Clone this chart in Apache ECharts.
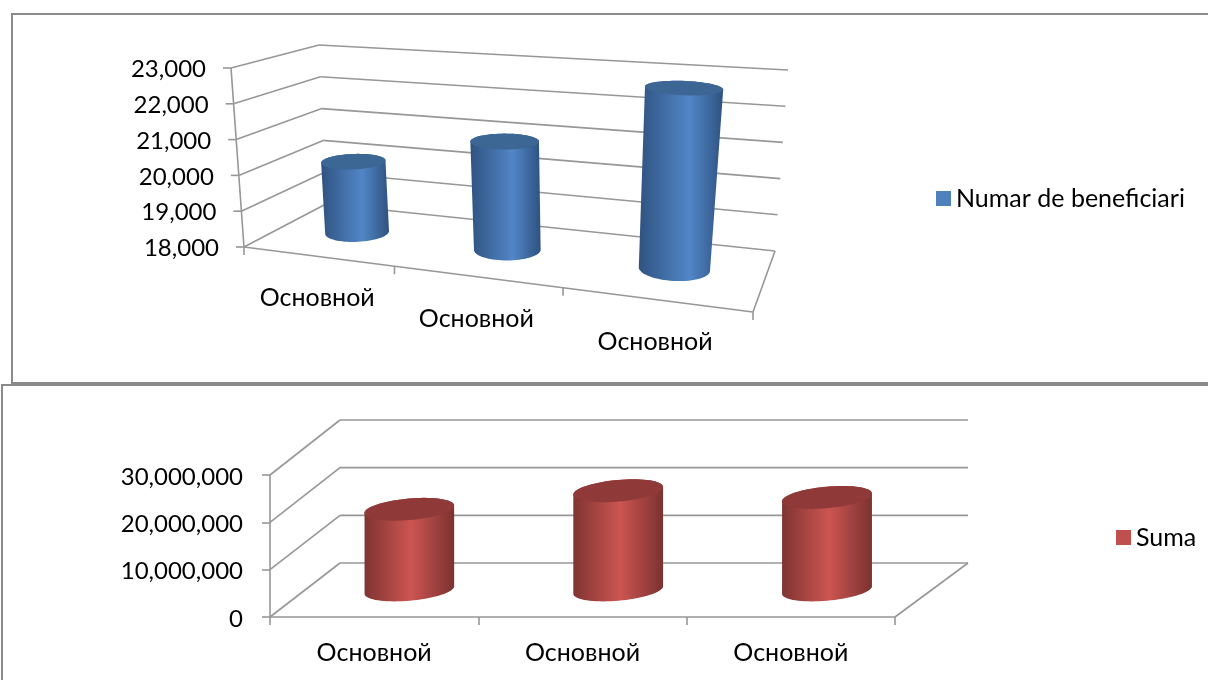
<!DOCTYPE html>
<html><head><meta charset="utf-8">
<style>html,body{margin:0;padding:0;background:#fff}#c{width:1208px;height:680px}</style>
<script src="https://cdn.jsdelivr.net/npm/echarts@6/dist/echarts.min.js"></script>
</head><body><div id="c"></div>
<script>
const categoriesTop = ['Основной','Основной','Основной'];
const categoriesBottom = ['Основной','Основной','Основной'];
const beneficiari = [20050, 21000, 22800];
const suma = [17000000, 20900000, 19500000];
const ticksTop = [18000,19000,20000,21000,22000,23000];
const ticksBottom = [0,10000000,20000000,30000000];
const FONT = 'Lato, "Open Sans", sans-serif';
const FS = 24, FS_TEXT = 25;
const GRAY = '#979797';

function homography(p){
  const [p0,p1,p2,p3]=p;
  const dx1=p1[0]-p2[0],dx2=p3[0]-p2[0],sx=p0[0]-p1[0]+p2[0]-p3[0];
  const dy1=p1[1]-p2[1],dy2=p3[1]-p2[1],sy=p0[1]-p1[1]+p2[1]-p3[1];
  const den=dx1*dy2-dx2*dy1;
  const g=(sx*dy2-dx2*sy)/den,h=(dx1*sy-sx*dy1)/den;
  const a=p1[0]-p0[0]+g*p1[0],b=p3[0]-p0[0]+h*p3[0],c=p0[0];
  const d=p1[1]-p0[1]+g*p1[1],e=p3[1]-p0[1]+h*p3[1],f=p0[1];
  return (u,w)=>{const q=g*u+h*w+1;return [(a*u+b*w+c)/q,(d*u+e*w+f)/q];};
}
function projector(cfg){
  const fl=homography(cfg.floor),ce=homography(cfg.ceil),k=cfg.warp||0;
  return (u,v,d)=>{const U=u+k*u*(1-u);const A=fl(U,d),B=ce(U,d);return [A[0]+(B[0]-A[0])*v,A[1]+(B[1]-A[1])*v];};
}
// corners: front-left, front-right, back-right, back-left
const topView={floor:[[244,247],[753,312],[775,251],[326,204]],ceil:[[231,68],[785,107],[788,70],[319,45]],warp:0.03,
  ru:0.066,rd:0.2,depth:0.5,peak:0.6,fill:['#2f5380','#5286c7','#2e5280'],lid:'#3c6694'};
const bottomView={floor:[[270,617],[895,617],[968,563],[340,563]],ceil:[[270,475],[895,475],[968,420],[340,420]],
  ru:0.0675,rd:0.21,depth:0.5,peak:0.52,fill:['#7f3432','#cc5551','#7b3230'],lid:'#8f3a38'};
const projTop=projector(topView),projBottom=projector(bottomView);

function uv(params,api,cat,val){
  const r=params.coordSys,c=api.coord([cat,val]);
  return [(c[0]-r.x)/r.width,(r.y+r.height-c[1])/r.height];
}
function line(a,b,w){return {type:'line',silent:true,shape:{x1:a[0],y1:a[1],x2:b[0],y2:b[1]},style:{stroke:GRAY,lineWidth:w||1.6}};}
function hull(pts){
  pts=pts.slice().sort((a,b)=>a[0]-b[0]||a[1]-b[1]);
  const cr=(o,a,b)=>(a[0]-o[0])*(b[1]-o[1])-(a[1]-o[1])*(b[0]-o[0]);
  const lo=[],up=[];
  for(const p of pts){while(lo.length>1&&cr(lo[lo.length-2],lo[lo.length-1],p)<=0)lo.pop();lo.push(p);}
  for(const p of pts.slice().reverse()){while(up.length>1&&cr(up[up.length-2],up[up.length-1],p)<=0)up.pop();up.push(p);}
  return lo.slice(0,-1).concat(up.slice(0,-1));
}
function barRenderer(cfg,proj){
  return function(params,api){
    const i=api.value(0),val=api.value(1);
    const t=uv(params,api,i,val);
    const uc=t[0],v=t[1];
    const ring=(vv)=>{const out=[];for(let k=0;k<72;k++){const a=k/72*Math.PI*2;
      out.push(proj(uc+cfg.ru*Math.cos(a),vv,cfg.depth+cfg.rd*Math.sin(a)));}return out;};
    const top=ring(v),bot=ring(0);
    const body=hull(top.concat(bot));
    const xs=body.map(p=>p[0]);const x0=Math.min(...xs),x1=Math.max(...xs);
    const grad=new echarts.graphic.LinearGradient(x0,0,x1,0,[
      {offset:0,color:cfg.fill[0]},{offset:cfg.peak,color:cfg.fill[1]},{offset:1,color:cfg.fill[2]}],true);
    return {type:'group',children:[
      {type:'polygon',shape:{points:body},style:{fill:grad}},
      {type:'polygon',shape:{points:top},style:{fill:cfg.lid}}
    ]};
  };
}
function frameTop(params,api){
  const kids=[],P=projTop;
  ticksTop.forEach(tk=>{
    const v=uv(params,api,0,tk)[1];
    const f=P(0,v,0),b=P(0,v,1),r=P(1,v,1);
    kids.push(line(f,b),line(b,r),line(f,[f[0]-8,f[1]]));
    kids.push({type:'text',silent:true,style:{text:tk.toLocaleString('en-US'),x:f[0]-25,y:f[1]+1.5,align:'right',verticalAlign:'middle',fill:'#000',font:FS+'px '+FONT}});
  });
  kids.push(line(P(0,0,0),P(0,1,0)));
  kids.push(line(P(0,0,0),P(1,0,0)),line(P(1,0,0),P(1,0,1)));
  const n=categoriesTop.length;
  for(let i=0;i<=n;i++){const a=P(i/n,0,0);kids.push(line(a,[a[0],a[1]+8]));}
  categoriesTop.forEach((name,i)=>{
    const u=uv(params,api,i,18000)[0],a=P(u,0,0);
    kids.push({type:'text',silent:true,style:{text:name,x:a[0],y:a[1]+42,align:'center',verticalAlign:'middle',fill:'#000',font:FS_TEXT+'px '+FONT}});
  });
  return {type:'group',children:kids};
}
function frameBottom(params,api){
  const kids=[],P=projBottom;
  ticksBottom.forEach(tk=>{
    const v=uv(params,api,0,tk)[1];
    const f=P(0,v,0),b=P(0,v,1),r=P(1,v,1);
    kids.push(line(f,b),line(b,r));
  });
  kids.push(line(P(1,0,0),P(1,0,1)));
  return {type:'group',children:kids};
}
const chart=echarts.init(document.getElementById('c'),null,{renderer:'canvas'});
const boxLine={stroke:'#8a8a8a',lineWidth:2};
chart.setOption({
  animation:false,backgroundColor:'#fff',
  graphic:[
    {type:'polyline',silent:true,shape:{points:[[1210,14],[12,14],[12,383],[1210,383]]},style:Object.assign({fill:null},boxLine)},
    {type:'polyline',silent:true,shape:{points:[[1210,385],[2,385],[2,682]]},style:Object.assign({fill:null},boxLine)}
  ],
  legend:[
    {left:936,top:186,data:['Numar de beneficiari'],icon:'rect',itemWidth:15,itemHeight:15,itemGap:0,padding:0,textStyle:{fontFamily:FONT,fontSize:FS_TEXT,color:'#000'}},
    {left:1116,top:525,data:['Suma'],icon:'rect',itemWidth:15,itemHeight:15,itemGap:0,padding:0,textStyle:{fontFamily:FONT,fontSize:FS_TEXT,color:'#000'}}
  ],
  grid:[
    {left:244,top:68,width:511,height:179,containLabel:false},
    {left:270,top:475,width:625,height:142,containLabel:false}
  ],
  xAxis:[
    {type:'category',gridIndex:0,data:categoriesTop,show:false},
    {type:'category',gridIndex:1,data:categoriesBottom,
     axisLine:{lineStyle:{color:GRAY,width:1.6}},axisTick:{show:true,length:8,lineStyle:{color:GRAY,width:1.6}},
     axisLabel:{margin:23,color:'#000',fontFamily:FONT,fontSize:FS_TEXT},splitLine:{show:false}}
  ],
  yAxis:[
    {type:'value',gridIndex:0,min:18000,max:23000,interval:1000,show:false},
    {type:'value',gridIndex:1,min:0,max:30000000,interval:10000000,
     axisLine:{show:true,lineStyle:{color:GRAY,width:1.6}},axisTick:{show:true,length:8,lineStyle:{color:GRAY,width:1.6}},
     axisLabel:{margin:27,color:'#000',fontFamily:FONT,fontSize:FS,verticalAlign:'top',lineHeight:4},splitLine:{show:false}}
  ],
  series:[
    {type:'custom',name:'frameTop',xAxisIndex:0,yAxisIndex:0,silent:true,z:1,data:[[0,18000]],renderItem:frameTop},
    {type:'custom',name:'frameBottom',xAxisIndex:1,yAxisIndex:1,silent:true,z:1,data:[[0,0]],renderItem:frameBottom},
    {type:'custom',name:'Numar de beneficiari',xAxisIndex:0,yAxisIndex:0,z:3,itemStyle:{color:'#4f81bd'},
     data:beneficiari.map((v,i)=>[i,v]),encode:{x:0,y:1},renderItem:barRenderer(topView,projTop)},
    {type:'custom',name:'Suma',xAxisIndex:1,yAxisIndex:1,z:3,itemStyle:{color:'#c0504d'},
     data:suma.map((v,i)=>[i,v]),encode:{x:0,y:1},renderItem:barRenderer(bottomView,projBottom)}
  ]
});
</script></body></html>
